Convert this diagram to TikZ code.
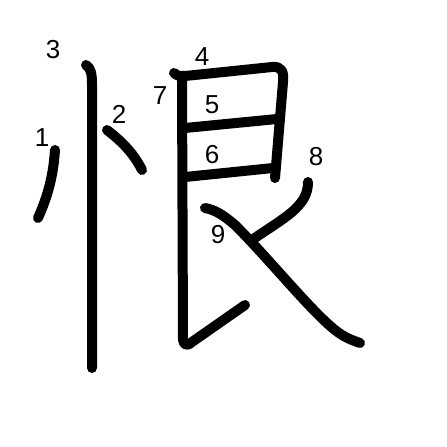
\documentclass[tikz,border=0pt]{standalone}
\usepackage{fontspec}
\setmainfont{Liberation Sans}
\begin{document}
\begin{tikzpicture}[x=1pt,y=-1pt,
  strokeline/.style={line width=10pt,line cap=round,line join=round},
  num/.style={font=\fontsize{26}{26}\selectfont,inner sep=0pt}]
\useasboundingbox[fill=white] (0,0) rectangle (447,447);
% stroke 1
\draw[strokeline] (55,150) .. controls (53,180) and (46,200) .. (38,218);
% stroke 2
\draw[strokeline] (107,130) .. controls (120,140) and (133,152) .. (142,170);
% stroke 3
\draw[strokeline] (86,65) .. controls (91,68) and (92,74) .. (92,85) -- (92,368);
% stroke 4
\draw[strokeline] (174,73) .. controls (178,76) .. (185,76) -- (272,67) .. controls (282,66) and (284,72) .. (283,82) -- (275,178);
% stroke 5
\draw[strokeline] (185,128) -- (277,119);
% stroke 6
\draw[strokeline] (185,177) -- (273,168);
% stroke 7
\draw[strokeline] (182,80) -- (183,340) .. controls (184,346) and (188,346) .. (192,342) -- (245,305);
% stroke 8
\draw[strokeline] (308,182) .. controls (308,195) and (302,203) .. (292,212) .. controls (280,222) and (266,230) .. (252,240);
% stroke 9
\draw[strokeline] (205,208) .. controls (215,210) and (222,214) .. (235,225) .. controls (270,260) and (310,310) .. (335,330) .. controls (345,338) and (352,340) .. (360,343);
% numbers
\node[num] (n1) at (42,138) {1};
\node[num] (n2) at (119,114) {2};
\node[num] (n3) at (53,50) {3};
\node[num] (n4) at (202,57) {4};
\node[num] (n5) at (212,105) {5};
\node[num] (n6) at (212,155) {6};
\node[num] (n7) at (160,96) {7};
\node[num] (n8) at (316,157) {8};
\node[num] (n9) at (218,235) {9};
\end{tikzpicture}
\end{document}
